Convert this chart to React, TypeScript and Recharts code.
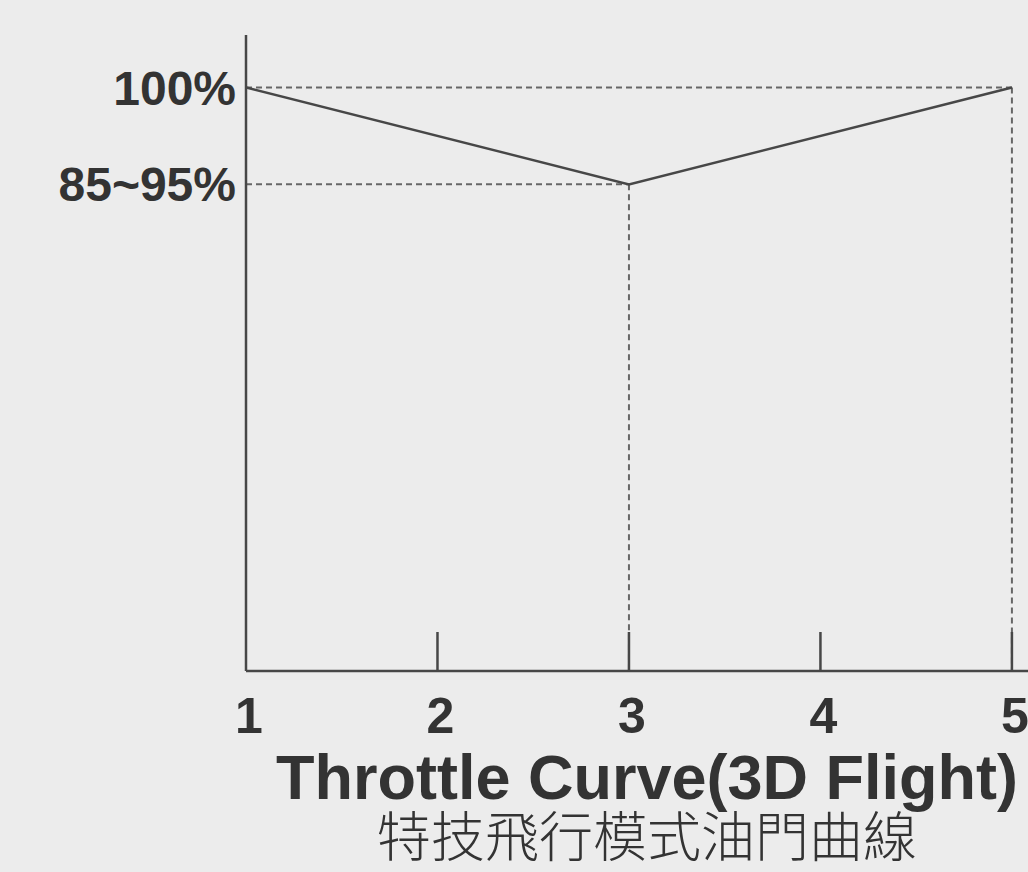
import { LineChart, Line, XAxis, YAxis, ReferenceLine } from 'recharts';

// throttle curve points (stick position -> throttle %)
const stickPositions = [1, 3, 5];
const throttleValues = [100, 83.4, 100];

const xTicks = [1, 2, 3, 4, 5];
const yTickValues = [83.4, 100];
const yTickLabels = ['85~95%', '100%'];

const title = 'Throttle Curve(3D Flight)';
const subtitle = '特技飛行模式油門曲線';

const data = stickPositions.map((x, i) => ({ x, y: throttleValues[i] }));

// dashed guides: across from the y axis and down to the x axis for each point after the first
const guides = data.slice(1).flatMap((p) => [
  [{ x: stickPositions[0], y: p.y }, { x: p.x, y: p.y }],
  [{ x: p.x, y: p.y }, { x: p.x, y: 0 }],
]);

const ink = '#474747';
const font = '"Liberation Sans", Arial, sans-serif';

const XTick = (props: any) => {
  const { x, y, payload } = props;
  return (
    <g>
      {payload.value !== xTicks[0] && (
        <line x1={x} y1={y} x2={x} y2={y - 39} stroke={ink} strokeWidth={2.5} />
      )}
      <text x={x + 3} y={y + 62} textAnchor="middle" fontSize={50} fontWeight="bold" fill="#333" fontFamily={font}>
        {payload.value}
      </text>
    </g>
  );
};

const YTick = (props: any) => {
  const { x, y, payload } = props;
  const idx = yTickValues.indexOf(payload.value);
  return (
    <text x={x} y={y + 17} textAnchor="end" fontSize={48} fontWeight="bold" fill="#333" fontFamily={font}>
      {yTickLabels[idx]}
    </text>
  );
};

const TitleLabel = (props: any) => {
  const { viewBox } = props;
  const cx = 647;
  return (
    <g>
      <text x={cx} y={viewBox.y + 128} textAnchor="middle" fontSize={63} fontWeight="bold" fill="#333" fontFamily={font}>
        {title}
      </text>
      <text x={cx} y={viewBox.y + 186} textAnchor="middle" fontSize={54} fontWeight={300} fill="#333" fontFamily='"Noto Sans CJK TC", sans-serif'>
        {subtitle}
      </text>
    </g>
  );
};

export default function App() {
  return (
    <div style={{ position: 'absolute', left: 0, top: 0, width: 1028, height: 872, background: '#ececec', overflow: 'hidden' }}>
      <LineChart width={1028} height={872} data={data} margin={{ top: 35, right: 0, bottom: 0, left: 0 }}>
        <XAxis
          dataKey="x"
          type="number"
          domain={[1, 5.084]}
          ticks={xTicks}
          allowDataOverflow
          height={201}
          tickSize={0}
          tickMargin={0}
          tickLine={false}
          axisLine={{ stroke: ink, strokeWidth: 2.5 }}
          tick={<XTick />}
          label={<TitleLabel />}
        />
        <YAxis
          type="number"
          domain={[0, 109]}
          ticks={yTickValues}
          width={246}
          tickSize={0}
          tickMargin={10}
          tickLine={false}
          axisLine={{ stroke: ink, strokeWidth: 2.5 }}
          tick={<YTick />}
        />
        {guides.map((seg, i) => (
          <ReferenceLine key={i} segment={seg} stroke="#666" strokeWidth={2} strokeDasharray="6 4" ifOverflow="extendDomain" />
        ))}
        <Line dataKey="y" type="linear" stroke={ink} strokeWidth={2.5} dot={false} isAnimationActive={false} />
      </LineChart>
    </div>
  );
}
